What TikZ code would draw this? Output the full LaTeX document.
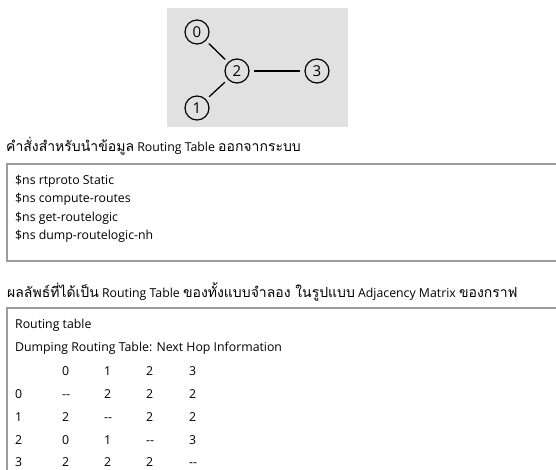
\documentclass[tikz,border=0pt]{standalone}
\usepackage{fontspec}
\setmainfont{Open Sans}
\newfontfamily\thaifont[Script=Thai]{Loma}
\usepackage{xcolor}
\usetikzlibrary{positioning}
\definecolor{panelgray}{HTML}{E1E1E1}
\definecolor{framegray}{HTML}{9C9C9C}
\tikzset{
  vertex/.style={circle,draw,line width=1.2pt,inner sep=0pt,minimum size=24pt,font=\fontsize{15}{15}\selectfont},
  link/.style={line width=1.3pt,shorten >=4pt,shorten <=4pt},
  txt/.style={anchor=base west,inner sep=0pt,font=\fontsize{12.3}{13}\selectfont},
  frame/.style={framegray,line width=1.3pt}
}
\newcommand{\thtxt}[1]{{\thaifont\fontsize{14}{13}\selectfont #1}}
\newcommand{\nohop}{{-}{-}}
\begin{document}
\begin{tikzpicture}[x=1pt,y=-1pt]
\useasboundingbox (0,0) rectangle (556,469);

% graph
\path [fill=panelgray] (167,8) rectangle (348,127);
\node [vertex] (n0) at (197,32) {0};
\node [vertex] (n2) at (237,71) {2};
\node [vertex] (n3) at (317,71) {3};
\node [vertex] (n1) at (197,108) {1};
\draw [link] (n0) -- (n2);
\draw [link] (n2) -- (n3);
\draw [link] (n1) -- (n2);

% commands
\node [txt] (cap1) at (6,151) {\thtxt{คำสั่งสำหรับนำข้อมูล} Routing Table \thtxt{ออกจากระบบ}};
\draw [frame] (560,164) -- (7,164) -- (7,261) -- (560,261);
\node [txt] (c1) at (15,184) {\$ns rtproto Static};
\node [txt] (c2) at (15,202.5) {\$ns compute-routes};
\node [txt] (c3) at (15,221) {\$ns get-routelogic};
\node [txt] (c4) at (15,239.5) {\$ns dump-routelogic-nh};

% result
\node [txt] (cap2) at (7,297) {\thtxt{ผลลัพธ์ที่ได้เป็น} Routing Table \thtxt{ของทั้งแบบจำลอง ในรูปแบบ} Adjacency Matrix \thtxt{ของกราฟ}};
\draw [frame] (560,308) -- (7,308) -- (7,475);
\node [txt] (r1) at (15,328) {Routing table};
\node [txt] (r2) at (15,351) {Dumping Routing Table: Next Hop Information};
\foreach \j/\h in {0/62,1/104,2/146,3/189}
  \node [txt] (h\j) at (\h,375) {\j};
\foreach \i/\y/\a/\b/\c/\d in {0/398/\nohop/2/2/2, 1/421/2/\nohop/2/2, 2/444/0/1/\nohop/3, 3/466.5/2/2/2/\nohop} {
  \node [txt] (m\i) at (15,\y) {\i};
  \node [txt] at (62,\y) {\a};
  \node [txt] at (104,\y) {\b};
  \node [txt] at (146,\y) {\c};
  \node [txt] at (189,\y) {\d};
}
\end{tikzpicture}
\end{document}
